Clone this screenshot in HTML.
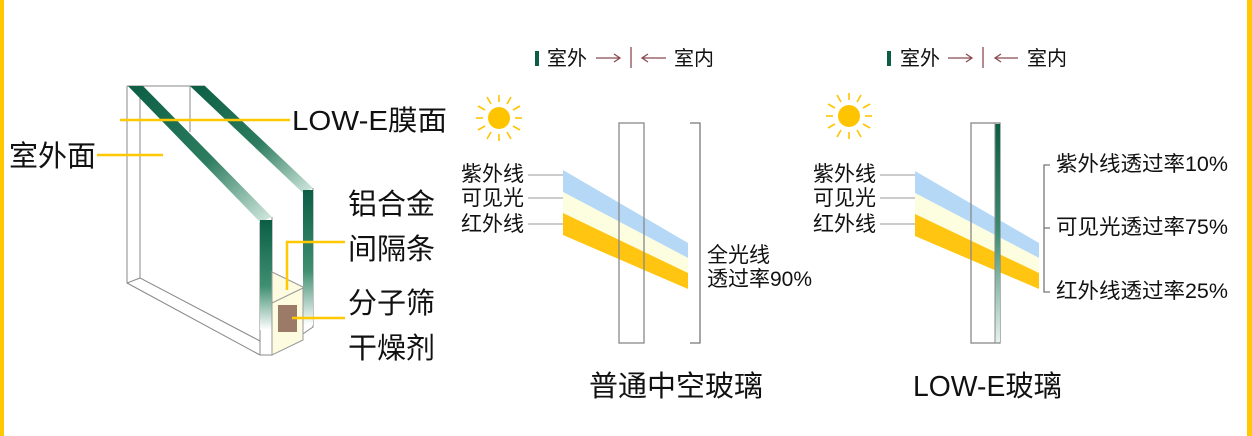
<!DOCTYPE html>
<html><head><meta charset="utf-8"><style>
html,body{margin:0;padding:0;background:#fff;}
svg{display:block;}
text{font-family:"Liberation Sans","Noto Sans CJK SC",sans-serif;fill:#111;}
</style></head><body>
<svg width="1252" height="436" viewBox="0 0 1252 436" xmlns="http://www.w3.org/2000/svg">
<defs>
<linearGradient id="gv" x1="0" y1="0" x2="0" y2="1">
<stop offset="0" stop-color="#0b5e44"/><stop offset="0.6" stop-color="#3f8f72"/><stop offset="1" stop-color="#ffffff"/>
</linearGradient>
<linearGradient id="gd" x1="0" y1="0" x2="1" y2="1">
<stop offset="0" stop-color="#0b5e44"/><stop offset="0.55" stop-color="#2d7c60"/><stop offset="1" stop-color="#d6ebe2"/>
</linearGradient>
<linearGradient id="gs" x1="0" y1="0" x2="0" y2="1">
<stop offset="0" stop-color="#0b5e44"/><stop offset="0.5" stop-color="#3e8d70"/><stop offset="1" stop-color="#e6f2ec"/>
</linearGradient>
</defs>
<rect x="0" y="0" width="4" height="436" fill="#ffc800"/>
<rect x="1247" y="0" width="5" height="436" fill="#ffc800"/>

<!-- left glass -->
<g stroke="#888" stroke-width="1" fill="none">
<polyline points="127,86 127,283 260,355 272,355 313,327 313,188"/>
<polyline points="140,86 140,278 260,341"/>
<line x1="127" y1="283" x2="140" y2="278"/>
<line x1="190" y1="86" x2="190" y2="132"/>
<line x1="127" y1="86" x2="205" y2="86"/>
<line x1="260" y1="222" x2="260" y2="355"/>
<line x1="272" y1="217" x2="272" y2="355"/>
</g>
<polygon points="128,86 143,86 272,217 260,222" fill="url(#gd)"/>
<polygon points="190,86 205,86 313,188 303,193" fill="url(#gd)"/>
<rect x="260" y="220" width="12" height="110" fill="url(#gv)"/>
<rect x="303" y="190" width="10" height="135" fill="url(#gv)"/>
<polygon points="272,272 303,287 303,340 272,355" fill="#fdfbe0" stroke="#999" stroke-width="1"/>
<line x1="272" y1="303" x2="303" y2="288" stroke="#999"/>
<rect x="278" y="305" width="19" height="27" fill="#9b7b68"/>
<g stroke="#ffc800" stroke-width="2.5" fill="none">
<line x1="120" y1="120" x2="290" y2="120"/>
<line x1="97" y1="155" x2="163" y2="155"/>
<polyline points="345,242 287,242 287,290"/>
<line x1="292" y1="318" x2="345" y2="318"/>
</g>
<text x="292" y="130" font-size="28" textLength="155" lengthAdjust="spacingAndGlyphs">LOW-E膜面</text>
<text x="9" y="166" font-size="29">室外面</text>
<g font-size="29">
<text x="348" y="214">铝合金</text>
<text x="348" y="259">间隔条</text>
<text x="348" y="313">分子筛</text>
<text x="348" y="358">干燥剂</text>
</g>

<!-- middle legend -->
<rect x="535" y="51" width="4" height="15" fill="#0b5e44"/>
<text x="547" y="65" font-size="20">室外</text>
<g stroke="#8a4b50" stroke-width="1.3" fill="none">
<path d="M596,58 H620 M614,54 L620,58 L614,62"/>
<line x1="631" y1="47" x2="631" y2="68"/>
<path d="M666,58 H642 M648,54 L642,58 L648,62"/>
</g>
<text x="674" y="65" font-size="20">室内</text>

<g id="sun1">
<circle cx="499" cy="118" r="11" fill="#ffc400"/>
<g stroke="#ffc400" stroke-width="1.6">
<line x1="499" y1="95" x2="499" y2="102"/><line x1="499" y1="134" x2="499" y2="141"/>
<line x1="476" y1="118" x2="483" y2="118"/><line x1="515" y1="118" x2="522" y2="118"/>
<line x1="487" y1="97" x2="491" y2="104"/><line x1="511" y1="97" x2="507" y2="104"/>
<line x1="487" y1="139" x2="491" y2="132"/><line x1="511" y1="139" x2="507" y2="132"/>
<line x1="478" y1="106" x2="485" y2="110"/><line x1="520" y1="106" x2="513" y2="110"/>
<line x1="478" y1="130" x2="485" y2="126"/><line x1="520" y1="130" x2="513" y2="126"/>
</g>
</g>

<polygon points="563,170 688,243 688,258 563,192" fill="#b5d8f7"/>
<polygon points="563,192 688,258 688,273 563,213" fill="#fdfde0"/>
<polygon points="563,213 688,273 688,289 563,235" fill="#ffc510"/>
<rect x="619" y="123" width="25" height="220" fill="none" stroke="#888" stroke-width="1.3"/>
<polyline points="690,123 700,123 700,343 690,343" fill="none" stroke="#777" stroke-width="1.3"/>
<g stroke="#999" stroke-width="1">
<line x1="528" y1="175" x2="563" y2="175"/>
<line x1="528" y1="198" x2="563" y2="198"/>
<line x1="528" y1="224" x2="563" y2="224"/>
</g>
<g font-size="21">
<text x="461" y="181">紫外线</text>
<text x="461" y="205">可见光</text>
<text x="461" y="231">红外线</text>
<text x="707" y="262">全光线</text>
<text x="707" y="286">透过率90%</text>
</g>
<text x="589" y="396" font-size="29">普通中空玻璃</text>

<!-- right -->
<rect x="887" y="51" width="4" height="15" fill="#0b5e44"/>
<text x="900" y="65" font-size="20">室外</text>
<g stroke="#8a4b50" stroke-width="1.3" fill="none">
<path d="M948,58 H972 M966,54 L972,58 L966,62"/>
<line x1="983" y1="47" x2="983" y2="68"/>
<path d="M1018,58 H995 M1001,54 L995,58 L1001,62"/>
</g>
<text x="1027" y="65" font-size="20">室内</text>
<use href="#sun1" x="350" y="-2"/>

<polygon points="915,171 1039,243 1039,258 915,193" fill="#b5d8f7"/>
<polygon points="915,193 1039,258 1039,273 915,214" fill="#fdfde0"/>
<polygon points="915,214 1039,273 1039,289 915,236" fill="#ffc510"/>
<rect x="971" y="123" width="29" height="220" fill="none" stroke="#888" stroke-width="1.3"/>
<rect x="995" y="124" width="5" height="218" fill="url(#gs)"/>
<line x1="995" y1="123" x2="995" y2="343" stroke="#888"/>
<g stroke="#999" stroke-width="1">
<line x1="880" y1="175" x2="915" y2="175"/>
<line x1="880" y1="198" x2="915" y2="198"/>
<line x1="880" y1="224" x2="915" y2="224"/>
</g>
<polyline points="1050,165 1044,165 1044,292 1050,292" fill="none" stroke="#777" stroke-width="1.3"/>
<line x1="1044" y1="228" x2="1050" y2="228" stroke="#777" stroke-width="1.3"/>
<g font-size="21">
<text x="813" y="181">紫外线</text>
<text x="813" y="205">可见光</text>
<text x="813" y="231">红外线</text>
<text x="1056" y="171" textLength="172" lengthAdjust="spacingAndGlyphs">紫外线透过率10%</text>
<text x="1056" y="234" textLength="172" lengthAdjust="spacingAndGlyphs">可见光透过率75%</text>
<text x="1056" y="298" textLength="172" lengthAdjust="spacingAndGlyphs">红外线透过率25%</text>
</g>
<text x="913" y="396" font-size="29" textLength="149" lengthAdjust="spacingAndGlyphs">LOW-E玻璃</text>
</svg>
</body></html>
